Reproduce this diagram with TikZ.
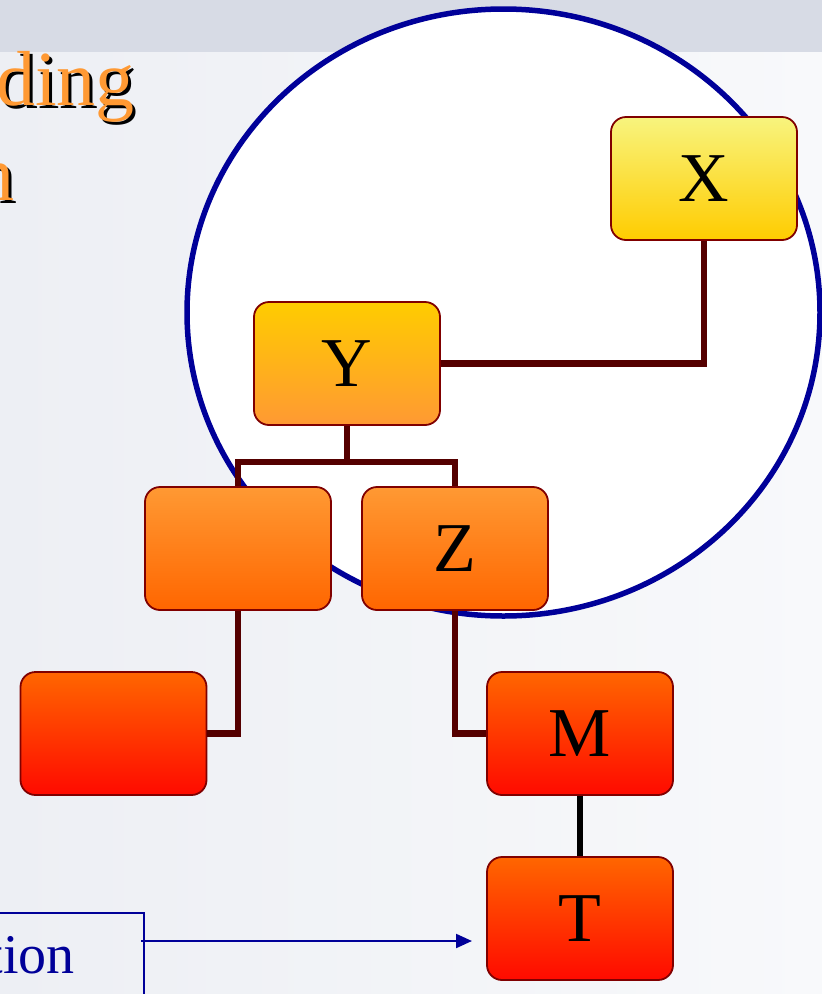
\documentclass[tikz,border=0pt]{standalone}
\usepackage{fontspec}
\setmainfont{Liberation Serif}
\usetikzlibrary{arrows.meta}
\definecolor{bandgray}{HTML}{D7DBE5}
\definecolor{bgleft}{HTML}{EDEFF4}
\definecolor{bgright}{HTML}{F8F9FB}
\definecolor{ringblue}{HTML}{000099}
\definecolor{edgered}{HTML}{800000}
\definecolor{linkbrown}{HTML}{550000}
\definecolor{titleorange}{HTML}{FF9933}
\definecolor{lyellow}{HTML}{F8F47E}
\definecolor{gold}{HTML}{FFCC00}
\definecolor{lorange}{HTML}{FF9933}
\definecolor{dorange}{HTML}{FF6600}
\definecolor{rred}{HTML}{FF0A00}
\tikzset{
  box/.style={draw=edgered, line width=1.8pt, rounded corners=15pt,
    minimum width=186pt, minimum height=123pt, inner sep=0pt,
    font=\fontsize{70}{74}\selectfont, text=black},
  lvlA/.style={box, top color=lyellow, bottom color=gold},
  lvlB/.style={box, top color=gold, bottom color=lorange},
  lvlC/.style={box, top color=lorange, bottom color=dorange},
  lvlD/.style={box, top color=dorange, bottom color=rred},
  link/.style={draw=linkbrown, line width=6.5pt},
  titletext/.style={font=\fontsize{78}{82}\selectfont, inner sep=0pt, anchor=base east},
}
\begin{document}
\begin{tikzpicture}[x=1pt,y=-1pt]
\useasboundingbox (0,0) rectangle (822,994);
% background
\shade[left color=bgleft, right color=bgright] (0,52) rectangle (822,994);
\fill[bandgray] (0,0) rectangle (822,52);
% title fragments
\node[titletext, text=black] at (138,108) {ding};
\node[titletext, text=titleorange] (t1) at (135,105) {ding};
\node[titletext, text=black] at (18,203) {n};
\node[titletext, text=titleorange] (t2) at (15,200) {n};
% ring
\draw[ringblue, line width=5.5pt, fill=white] (503.5,312.5) ellipse [x radius=316.5, y radius=303.5];
% nodes
\node[lvlA] (X) at (704,178.5) {X};
\node[lvlB] (Y) at (347,363.5) {Y};
\node[lvlC] (L) at (238,548.5) {};
\node[lvlC] (Z) at (455,548.5) {Z};
\node[lvlD] (LL) at (113.5,733.5) {};
\node[lvlD] (M) at (580,733.5) {M};
\node[lvlD] (T) at (580,918.5) {T};
% connectors
\coordinate (ybr) at (347,462);
\draw[link] (X.south) |- (Y.east);
\draw[link] (Y.south) -- (ybr);
\draw[link] (L.north) |- (ybr) -| (Z.north);
\draw[link] (L.south) |- (LL.east);
\draw[link] (Z.south) |- (M.west);
\draw[black, line width=5.5pt] (M.south) -- (T.north);
% bottom-left box
\node[draw=ringblue, line width=1.8pt, minimum width=160pt, minimum height=100pt, anchor=north east] (B) at (145,912) {};
\node[text=ringblue, font=\fontsize{56}{60}\selectfont, inner sep=0pt, anchor=base east] (bt) at (75,973) {tion};
\coordinate (as) at (141,941);
\coordinate (ae) at (472,941);
\draw[ringblue, line width=2.2pt, -{Triangle[length=16pt,width=14pt]}] (as) -- (ae);
\end{tikzpicture}
\end{document}
